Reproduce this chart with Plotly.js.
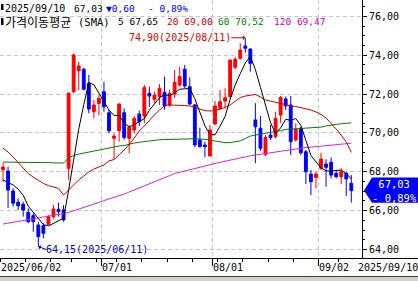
<!DOCTYPE html>
<html>
<head>
<meta charset="utf-8">
<script src="https://cdn.plot.ly/plotly-3.0.1.min.js"></script>
<style>
html,body{margin:0;padding:0;background:#fff;}
#chart{width:418px;height:281px;}
</style>
</head>
<body>
<div id="chart"></div>
<script>
// ---- data ----
const dates = ['2025-06-02','2025-06-03','2025-06-04','2025-06-05','2025-06-06','2025-06-09','2025-06-10','2025-06-11','2025-06-12','2025-06-13',
'2025-06-16','2025-06-17','2025-06-18','2025-06-20','2025-06-23','2025-06-24','2025-06-25','2025-06-26','2025-06-27','2025-06-30',
'2025-07-01','2025-07-02','2025-07-03','2025-07-07','2025-07-08','2025-07-09','2025-07-10','2025-07-11','2025-07-14','2025-07-15',
'2025-07-16','2025-07-17','2025-07-18','2025-07-21','2025-07-22','2025-07-23','2025-07-24','2025-07-25','2025-07-28','2025-07-29',
'2025-07-30','2025-07-31','2025-08-01','2025-08-04','2025-08-05','2025-08-06','2025-08-07','2025-08-08','2025-08-11','2025-08-12',
'2025-08-13','2025-08-14','2025-08-15','2025-08-18','2025-08-19','2025-08-20','2025-08-21','2025-08-22','2025-08-25','2025-08-26',
'2025-08-27','2025-08-28','2025-08-29','2025-09-02','2025-09-03','2025-09-04','2025-09-05','2025-09-08','2025-09-09','2025-09-10'];

const open = [68.11,68.04,67.01,66.43,66.33,65.91,65.74,65.26,65.22,65.29,
65.69,66.07,66.03,68.18,72.12,73.20,73.28,72.55,71.09,71.52,
72.12,71.04,69.72,70.11,71.04,69.72,70.15,70.97,70.87,72.04,
71.73,71.87,72.09,71.44,72.00,72.47,73.28,72.38,71.44,69.64,
69.38,68.81,70.46,71.27,71.64,71.87,73.38,73.84,74.48,74.32,
70.67,70.24,68.90,69.89,69.81,70.92,71.75,71.44,69.64,70.24,
69.03,67.88,67.71,68.18,68.40,68.49,67.92,67.75,67.92,67.41];
const high = [68.48,68.26,67.15,66.63,66.46,66.12,65.86,65.43,65.35,65.77,
66.29,66.41,66.29,72.10,74.10,73.67,73.35,72.98,71.70,71.95,
72.64,71.18,69.98,71.52,71.27,70.41,70.87,71.14,72.47,72.38,
72.12,72.52,72.90,72.21,73.24,73.41,73.50,72.86,71.50,70.27,
69.55,70.41,71.64,72.21,72.30,73.79,73.92,74.61,74.90,74.36,
71.53,70.87,69.89,70.41,71.09,71.90,71.87,71.90,70.50,70.32,
69.12,68.09,68.00,68.98,68.64,68.74,68.09,68.18,68.00,67.83];
const low = [67.49,66.13,66.20,66.03,65.69,65.35,64.91,64.15,64.57,65.26,
65.60,65.69,65.43,67.58,72.04,72.21,72.20,71.01,70.75,70.92,
71.09,69.98,68.64,69.55,69.64,68.95,69.98,70.36,70.50,71.35,
71.52,71.44,71.20,71.35,71.80,72.38,72.30,71.44,69.26,69.26,
68.74,68.81,70.41,71.18,71.27,71.78,73.28,73.79,74.13,73.15,
68.44,69.08,68.81,69.64,69.72,70.50,71.18,68.86,69.55,68.86,
67.37,66.80,67.15,68.09,67.23,67.66,67.66,67.37,66.75,66.41];
const close = [68.24,67.06,66.38,66.25,66.03,65.43,65.43,64.66,64.83,65.69,
66.08,65.94,65.52,72.04,74.01,73.45,72.25,71.23,71.44,71.78,
71.35,70.11,69.84,71.49,69.77,70.29,70.75,70.58,72.33,71.90,
71.95,72.30,71.39,72.04,72.61,72.90,72.42,71.49,69.38,69.29,
69.29,70.15,71.39,71.61,71.81,73.75,73.79,74.27,74.36,73.58,
70.32,69.21,69.77,69.75,70.75,71.83,71.39,69.55,70.19,68.98,
68.00,67.49,67.88,68.66,68.23,67.83,67.75,68.00,67.63,67.03];

const ma5 = [67.58,67.45,67.32,67.11,66.79,66.23,65.90,65.56,65.28,65.21,
65.34,65.44,65.61,67.05,68.72,70.19,71.45,72.60,72.48,72.03,
71.61,71.18,70.90,70.91,70.51,70.30,70.43,70.58,70.74,71.17,
71.50,71.81,71.97,71.92,72.06,72.25,72.27,72.29,71.76,71.10,
70.37,69.92,69.90,70.35,70.85,71.74,72.47,73.05,73.60,73.95,
73.26,72.35,71.45,70.53,69.96,70.26,70.70,70.65,70.74,70.39,
69.62,68.84,68.51,68.20,68.05,68.02,68.07,68.09,67.89,67.65];
const ma20 = [69.22,69.02,68.76,68.48,68.19,67.91,67.73,67.55,67.40,67.29,
67.22,67.14,66.80,67.06,67.32,67.58,67.78,67.99,68.14,68.25,
68.35,68.56,68.63,68.86,69.12,69.40,69.74,70.10,70.36,70.67,
70.93,71.18,71.41,71.44,71.44,71.44,71.41,71.39,71.33,71.23,
71.15,71.13,71.15,71.23,71.31,71.44,71.64,71.82,71.90,71.95,
71.98,71.85,71.70,71.64,71.57,71.51,71.44,71.39,71.36,71.31,
71.23,71.18,71.08,70.95,70.77,70.51,70.20,69.89,69.53,69.00];
const ma60 = [68.50,68.50,68.49,68.49,68.49,68.48,68.48,68.48,68.47,68.47,
68.46,68.46,68.45,68.71,68.84,68.91,68.97,69.02,69.07,69.12,
69.17,69.22,69.28,69.33,69.35,69.43,69.48,69.52,69.56,69.58,
69.64,69.65,69.66,69.67,69.67,69.69,69.70,69.71,69.70,69.69,
69.67,69.65,69.58,69.52,69.50,69.50,69.53,69.59,69.71,69.84,
69.89,69.93,69.97,70.02,70.07,70.12,70.18,70.20,70.23,70.24,
70.26,70.27,70.28,70.30,70.36,70.41,70.44,70.47,70.50,70.52];
const ma120 = [65.31,65.35,65.40,65.44,65.50,65.54,65.58,65.62,65.67,65.71,
65.75,65.80,65.85,65.91,65.99,66.07,66.15,66.24,66.32,66.42,
66.52,66.60,66.67,66.76,66.85,66.96,67.06,67.16,67.27,67.37,
67.47,67.58,67.69,67.80,67.91,67.97,68.04,68.10,68.17,68.23,
68.30,68.36,68.43,68.49,68.55,68.62,68.68,68.73,68.78,68.82,
68.86,68.90,68.94,68.99,69.03,69.08,69.12,69.16,69.19,69.22,
69.25,69.27,69.30,69.33,69.35,69.38,69.40,69.42,69.44,69.47];

const monthTickDates = ['2025-06-02','2025-07-01','2025-08-01','2025-09-02'];
const monthTickLabels = ['2025/06/02','07/01','08/01','09/02'];
const weekTickDates = ['2025-06-02','2025-06-09','2025-06-16','2025-06-23','2025-06-30','2025-07-07','2025-07-14',
'2025-07-21','2025-07-28','2025-08-04','2025-08-11','2025-08-18','2025-08-25','2025-09-02','2025-09-08'];
const yTicks = [64,66,68,70,72,74,76];
const maxLabel = {date:'2025-08-11', value:74.90};
const minLabel = {date:'2025-06-11', value:64.15};
const lastDateLabel = '2025/09/10';

// ---- drawing ----
const x = dates.map((d,i)=>i);
const pos = d => dates.indexOf(d);
const fmt = v => v.toFixed(2).replace('.', ',');
const n = close.length;
const chg = close[n-1] - close[n-2];
const pct = chg / close[n-2] * 100;

const W = 362, H = 258;           // plot area size in px
const px = p => p / W;            // px -> paper x
const py = p => (H - p) / H;      // px -> paper y

const MONO = 'DejaVu Sans Mono';
const RED = '#ff0000', BLUE = '#0000ff';

const traces = [
  {type:'candlestick', x:x, open:open, high:high, low:low, close:close,
   increasing:{line:{color:RED,width:1}, fillcolor:RED},
   decreasing:{line:{color:BLUE,width:1}, fillcolor:BLUE},
   whiskerwidth:0, hoverinfo:'none'},
  {type:'scatter', mode:'lines', x:x, y:ma120, line:{color:'#e020e0', width:1}, hoverinfo:'none'},
  {type:'scatter', mode:'lines', x:x, y:ma60, line:{color:'#008000', width:1}, hoverinfo:'none'},
  {type:'scatter', mode:'lines', x:x, y:ma20, line:{color:'#d00000', width:1}, hoverinfo:'none'},
  {type:'scatter', mode:'lines', x:x, y:ma5, line:{color:'#000000', width:1}, hoverinfo:'none'}
];

function txt(t, xp, yp, color, opts) {
  return Object.assign({text:t, xref:'paper', yref:'paper', x:px(xp), y:py(yp),
    xanchor:'left', yanchor:'middle', showarrow:false, borderpad:0, borderwidth:0,
    font:{family:MONO, size:9.5, color:color}}, opts||{});
}

const annotations = [
  txt(dates[n-1].replace(/-/g,'/'), 5, 8, '#000', {font:{family:MONO, size:10, color:'#000'}}),
  txt(fmt(close[n-1]), 74, 8, '#000'),
  txt('▼' + fmt(Math.abs(chg)), 106, 8, BLUE),
  txt('- ' + fmt(Math.abs(pct)) + '%', 148, 8, BLUE),
  txt('가격이동평균', 5, 21.5, '#000', {font:{family:'Noto Sans CJK KR', size:12, color:'#000'}}),
  txt('(SMA)', 78, 21.5, '#000', {font:{family:MONO, size:10.5, color:'#000'}}),
  txt('5 ' + fmt(ma5[n-1]), 118, 21.5, '#000'),
  txt('20 ' + fmt(ma20[n-1]), 167, 21.5, '#cc0000'),
  txt('60 ' + fmt(ma60[n-1]), 218, 21.5, '#008000'),
  txt('120 ' + fmt(ma120[n-1]), 274, 21.5, '#cc00cc'),
  // max / min markers
  {text: fmt(maxLabel.value) + '(' + maxLabel.date.replace(/-/g,'/') + ')', x: pos(maxLabel.date), y: maxLabel.value,
   xref:'x', yref:'y', showarrow:true, ax:-14, ay:0, xanchor:'right', yanchor:'middle',
   arrowcolor:'#dd0000', arrowhead:1, arrowsize:0.8, arrowwidth:1, standoff:0, borderpad:0, borderwidth:0,
   font:{family:MONO, size:10, color:'#dd0000'}},
  {text: fmt(minLabel.value) + '(' + minLabel.date.replace(/-/g,'/') + ')', x: pos(minLabel.date), y: minLabel.value,
   xref:'x', yref:'y', showarrow:true, ax:8, ay:3, xanchor:'left', yanchor:'middle',
   arrowcolor:'#0000c0', arrowhead:1, arrowsize:0.8, arrowwidth:1, standoff:0, borderpad:0, borderwidth:0,
   font:{family:MONO, size:10, color:'#0000c0'}},
  // price tag text
  {text: fmt(close[n-1]) + '<br>- ' + fmt(Math.abs(pct)) + '%', xref:'paper', yref:'y', x:px(394), y:close[n-1],
   xanchor:'center', yanchor:'middle', showarrow:false, borderpad:0, borderwidth:0,
   font:{family:MONO, size:10.5, color:'#ffffff'}},
  // last date label under y axis
  txt(lastDateLabel, 418, 267, '#000', {xanchor:'right', font:{family:MONO, size:10, color:'#000'}})
];
monthTickDates.forEach((d,k)=>{
  annotations.push({text: monthTickLabels[k], xref:'x', yref:'paper', x: pos(d) - 0.5, y: py(267),
    xanchor:'left', yanchor:'middle', showarrow:false, borderpad:0, borderwidth:0, xshift:1,
    font:{family:MONO, size:10, color:'#000'}});
});

const c = close[n-1];
const up = 0.68, dn = 0.62;
const shapes = [
  {type:'rect', xref:'paper', yref:'paper', x0:px(1), x1:px(3.5), y0:py(10), y1:py(4), fillcolor:'#000', line:{width:0}},
  {type:'rect', xref:'paper', yref:'paper', x0:px(1), x1:px(3.5), y0:py(25), y1:py(18), fillcolor:'#000', line:{width:0}},
  {type:'path', xref:'paper', yref:'y',
   path:`M ${px(364)},${c} L ${px(372)},${c+up} L ${px(418)},${c+up} L ${px(418)},${c-dn} L ${px(372)},${c-dn} Z`,
   fillcolor:BLUE, line:{width:0}},
  {type:'line', xref:'paper', yref:'paper', x0:0, x1:px(418), y0:py(258.5), y1:py(258.5), line:{color:'#000', width:1}},
  {type:'rect', xref:'paper', yref:'paper', x0:0, x1:px(418), y0:py(281), y1:py(277), fillcolor:'#d4d0c8', line:{width:0}},
  {type:'line', xref:'paper', yref:'paper', x0:0, x1:px(418), y0:py(276.5), y1:py(276.5), line:{color:'#404040', width:1}}
];

const layout = {
  width:418, height:281,
  margin:{l:0, r:56, t:0, b:23, pad:0},
  paper_bgcolor:'#ffffff', plot_bgcolor:'#ffffff',
  showlegend:false, hovermode:false,
  separators:',.',
  boxgap:0.2,
  xaxis:{
    range:[-0.594, 71.12], fixedrange:true, rangeslider:{visible:false},
    tickmode:'array', tickvals: monthTickDates.slice(1).map(d=>pos(d)-0.5), showticklabels:false,
    ticks:'outside', ticklen:7, tickcolor:'#000', tickwidth:1,
    showgrid:true, gridcolor:'#c8c8c8', griddash:'4px,3px', gridwidth:1,
    minor:{tickmode:'array', tickvals: weekTickDates.map(d=>pos(d)-0.5), ticks:'outside', ticklen:3, tickcolor:'#000', showgrid:false},
    showline:false, zeroline:false
  },
  yaxis:{
    side:'right', range:[63.56, 76.845], fixedrange:true,
    tickmode:'array', tickvals:yTicks, tickformat:'.2f',
    ticks:'outside', ticklen:4, tickcolor:'#000', tickwidth:1,
    tickfont:{family:MONO, size:10, color:'#000'},
    showgrid:true, gridcolor:'#c8c8c8', griddash:'4px,3px', gridwidth:1,
    minor:{dtick:0.5, tick0:64, ticks:'outside', ticklen:2, tickcolor:'#000', showgrid:false},
    showline:true, linecolor:'#000', linewidth:1, zeroline:false
  },
  annotations: annotations,
  shapes: shapes
};

Plotly.newPlot('chart', traces, layout, {staticPlot:true, displayModeBar:false});
</script>
</body>
</html>
